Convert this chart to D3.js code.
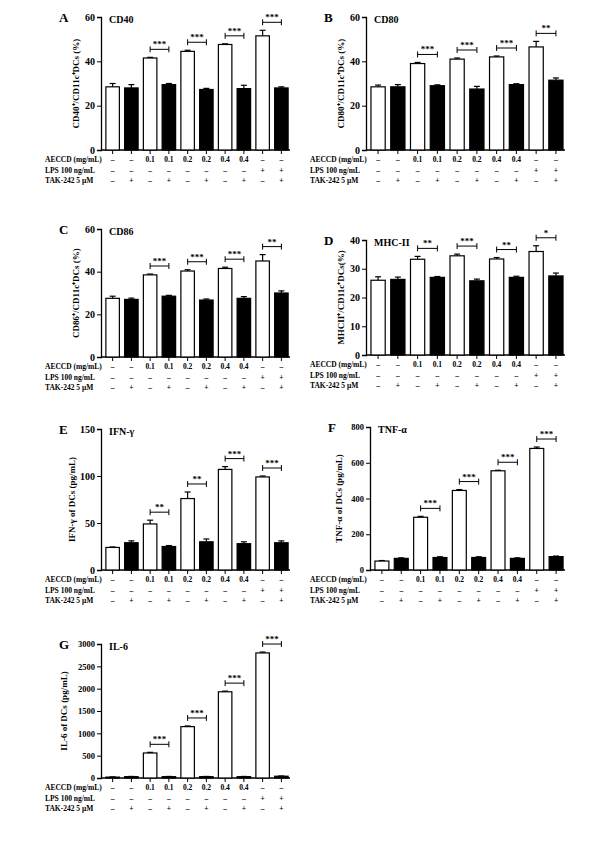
<!DOCTYPE html><html><head><meta charset="utf-8"><script src="https://cdn.jsdelivr.net/npm/d3@7"></script>
<style>body{margin:0;background:#fff}text{font-family:"Liberation Serif",serif;font-weight:bold}</style></head><body>
<svg id="c" width="594" height="845"></svg>
<script>
const aeccd=["–","–","0.1","0.1","0.2","0.2","0.4","0.4","–","–"];
const lps=["–","–","–","–","–","–","–","–","+","+"];
const tak=["–","+","–","+","–","+","–","+","–","+"];
const cd40=[28.5,28,41.5,29.5,44.5,27.3,47.6,27.7,51.5,28], cd40e=[1.5,1.5,0.3,0.5,0.5,0.5,0.3,1.5,2.5,0.5];
const cd80=[28.5,28.5,39,29,41,27.5,42,29.5,46.5,31.5], cd80e=[0.8,1,0.5,0.4,0.5,1.2,0.4,0.4,2.5,1];
const cd86=[27.5,27,38.5,28.5,40.3,26.7,41.5,27.5,45,30], cd86e=[1,0.6,0.4,0.4,0.6,0.5,0.6,0.8,3,1];
const mhc=[26,26.3,33.3,27,34.5,25.8,33.4,27,36,27.5], mhce=[1.2,0.8,1,0.3,0.6,0.6,0.5,0.4,2,1];
const ifn=[24,29,49,25,76,30,107,28,99,29], ifne=[0.5,2,4,1,7,3,3,2,1,2];
const tnf=[50,65,295,70,445,70,555,65,680,75], tnfe=[3,3,5,4,5,4,3,3,8,3];
const il6=[20,30,560,30,1150,30,1930,30,2800,40], il6e=[5,5,15,5,15,5,15,5,20,5];
const panels=[
 {L:"A",t:"CD40",v:cd40,e:cd40e,max:60,ticks:[0,20,40,60],yl:"CD40⁺/CD11c⁺DCs (%)",x0:101,x1:290,y0:17,y1:150,off:22,sig:["***","***","***","***"]},
 {L:"B",t:"CD80",v:cd80,e:cd80e,max:60,ticks:[0,20,40,60],yl:"CD80⁺/CD11c⁺DCs (%)",x0:366,x1:565,y0:17,y1:150,off:22,sig:["***","***","***","**"]},
 {L:"C",t:"CD86",v:cd86,e:cd86e,max:60,ticks:[0,20,40,60],yl:"CD86⁺/CD11c⁺DCs (%)",x0:101,x1:290,y0:229,y1:357,off:22,sig:["***","***","***","**"]},
 {L:"D",t:"MHC-II",v:mhc,e:mhce,max:40,ticks:[0,10,20,30,40],yl:"MHCII⁺/CD11c⁺DCs(%)",x0:366,x1:565,y0:240,y1:355,off:22,sig:["**","***","**","*"]},
 {L:"E",t:"IFN-γ",v:ifn,e:ifne,max:150,ticks:[0,50,100,150],yl:"IFN-γ of DCs (pg/mL)",x0:101,x1:290,y0:429,y1:570,off:26,sig:["**","**","***","***"]},
 {L:"F",t:"TNF-α",v:tnf,e:tnfe,max:800,ticks:[0,200,400,600,800],yl:"TNF-α of DCs (pg/mL)",x0:370,x1:565,y0:427,y1:570,off:28,sig:["***","***","***","***"]},
 {L:"G",t:"IL-6",v:il6,e:il6e,max:3000,ticks:[0,500,1000,1500,2000,2500,3000],yl:"IL-6 of DCs (pg/mL)",x0:101,x1:290,y0:644,y1:778,off:34,sig:["***","***","***","***"]}];
const svg=d3.select("#c");
panels.forEach(p=>{
 const g=svg.append("g");
 const x=d3.scaleBand().domain(d3.range(10)).range([p.x0+3,p.x1]).paddingInner(0.28).paddingOuter(0.1);
 const y=d3.scaleLinear().domain([0,p.max]).range([p.y1,p.y0]);
 g.append("g").attr("transform",`translate(${p.x0},0)`).call(d3.axisLeft(y).tickValues(p.ticks).tickSize(4).tickPadding(2).tickFormat(d3.format("d")))
  .call(a=>{a.selectAll("text").style("font-size",p.max>=800?"8.5px":"10px");a.select(".domain").attr("stroke-width",1.3);});
 g.append("line").attr("x1",p.x0).attr("x2",p.x1).attr("y1",p.y1).attr("y2",p.y1).attr("stroke","#000").attr("stroke-width",1.3);
 x.domain().forEach(i=>g.append("line").attr("x1",x(i)+x.bandwidth()/2).attr("x2",x(i)+x.bandwidth()/2).attr("y1",p.y1).attr("y2",p.y1+4).attr("stroke","#000"));
 g.append("text").attr("x",p.x0-42).attr("y",p.y0+5).style("font-size","13px").text(p.L);
 g.append("text").attr("x",p.x0+8).attr("y",p.y0+6).style("font-size","10px").text(p.t);
 g.append("text").attr("transform",`translate(${p.x0-p.off},${(p.y0+p.y1)/2}) rotate(-90)`).attr("text-anchor","middle").style("font-size","9px").text(p.yl);
 p.v.forEach((v,i)=>{
  const cx=x(i)+x.bandwidth()/2;
  g.append("line").attr("x1",cx).attr("x2",cx).attr("y1",y(v)).attr("y2",y(v+p.e[i])).attr("stroke","#000").attr("stroke-width",1.2);
  g.append("line").attr("x1",cx-3).attr("x2",cx+3).attr("y1",y(v+p.e[i])).attr("y2",y(v+p.e[i])).attr("stroke","#000").attr("stroke-width",1.2);
  g.append("rect").attr("x",x(i)).attr("width",x.bandwidth()).attr("y",y(v)).attr("height",p.y1-y(v))
   .attr("fill",i%2?"#000":"#fff").attr("stroke","#000").attr("stroke-width",1.2);
 });
 p.sig.forEach((s,k)=>{
  const a=2*k+2,b=2*k+3;const top=Math.max(p.v[a]+p.e[a],p.v[b]+p.e[b]);
  const yy=y(top)-8, xa=x(a)+x.bandwidth()/2, xb=x(b)+x.bandwidth()/2;
  g.append("line").attr("x1",xa).attr("x2",xb).attr("y1",yy).attr("y2",yy).attr("stroke","#000");
  [xa,xb].forEach(xx=>g.append("line").attr("x1",xx).attr("x2",xx).attr("y1",yy-3).attr("y2",yy+3).attr("stroke","#000"));
  g.append("text").attr("x",(xa+xb)/2).attr("y",yy-2).attr("text-anchor","middle").style("font-size","9px").text(s);
 });
 const rows=[["AECCD (mg/mL)",aeccd],["LPS 100 ng/mL",lps],["TAK-242 5 μM",tak]];
 rows.forEach((r,j)=>{
  const ry=p.y1+12+j*10.5;
  g.append("text").attr("x",p.x0-56-(p.x0-101>0&&p.x0>300?p.x0-366:0)).attr("y",ry).style("font-size","7.5px").text(r[0]);
  r[1].forEach((t,i)=>g.append("text").attr("x",x(i)+x.bandwidth()/2).attr("y",ry).attr("text-anchor","middle").style("font-size","7.5px").text(t));
 });
});
</script></body></html>
